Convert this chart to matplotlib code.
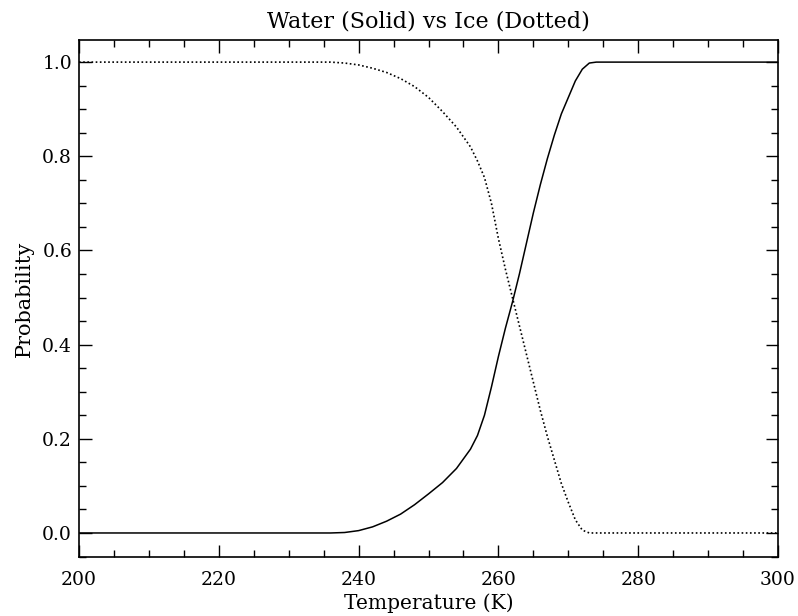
import numpy as np
from matplotlib import pyplot as plt
from matplotlib.ticker import MultipleLocator

# temperature grid (K) and probabilities
temperature = [200, 236, 238, 240, 242, 244, 246, 248, 250, 252, 254, 256, 257,
               258, 259, 260, 261, 262, 263, 264, 265, 266, 267, 268, 269, 270,
               271, 272, 273, 274, 300]
water = [0.0, 0.0, 0.001, 0.005, 0.013, 0.025, 0.040, 0.060, 0.083, 0.107,
         0.137, 0.178, 0.207, 0.250, 0.310, 0.375, 0.435, 0.490, 0.550, 0.615,
         0.680, 0.740, 0.795, 0.845, 0.890, 0.925, 0.960, 0.985, 0.998, 1.0, 1.0]
ice = [1.0, 1.0, 0.998, 0.994, 0.987, 0.978, 0.965, 0.948, 0.925, 0.895,
       0.862, 0.820, 0.790, 0.755, 0.700, 0.625, 0.560, 0.500, 0.440, 0.380,
       0.320, 0.260, 0.205, 0.155, 0.105, 0.065, 0.028, 0.006, 0.0, 0.0, 0.0]

plt.rcParams['font.family'] = ['DejaVu Serif']

fig = plt.figure(figsize=(7.98, 6.16), dpi=100)
ax = fig.add_axes([0.099, 0.0958, 0.876, 0.8393])

ax.plot(temperature, water, color='black', lw=1.1)
ax.plot(temperature, ice, color='black', lw=1.2, linestyle=(0, (1, 1.5)))

ax.set_xlim(200, 300)
ax.set_ylim(-0.051, 1.047)
ax.xaxis.set_major_locator(MultipleLocator(20))
ax.xaxis.set_minor_locator(MultipleLocator(5))
ax.yaxis.set_major_locator(MultipleLocator(0.2))
ax.yaxis.set_minor_locator(MultipleLocator(0.05))
ax.xaxis.set_major_formatter(lambda v, p: '%d' % v)
ax.yaxis.set_major_formatter(lambda v, p: '%.1f' % v)

ax.tick_params(which='both', direction='in', top=True, right=True,
               width=1, colors='black', labelsize=13.5)
ax.tick_params(which='major', length=9)
ax.tick_params(which='minor', length=5)
ax.tick_params(axis='x', which='major', pad=10)
ax.tick_params(axis='y', which='major', pad=5)
for s in ax.spines.values():
    s.set_linewidth(1.2)

ax.set_title('Water (Solid) vs Ice (Dotted)', fontsize=16, pad=9)
ax.set_xlabel('Temperature (K)', fontsize=14.5, labelpad=3)
ax.set_ylabel('Probability', fontsize=15, labelpad=6)

fig.savefig('out.png', dpi=100)
